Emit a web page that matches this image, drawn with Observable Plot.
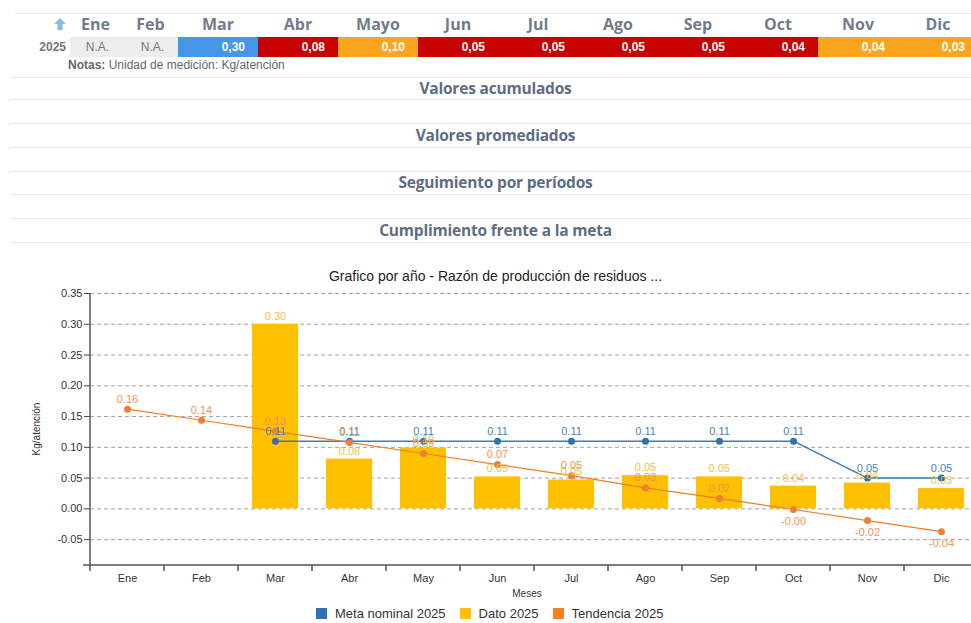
<!DOCTYPE html>
<html><head><meta charset="utf-8">
<script src="https://cdn.jsdelivr.net/npm/d3@7"></script>
<script src="https://cdn.jsdelivr.net/npm/@observablehq/plot@0.6"></script>
<style>
body{margin:0;width:971px;height:623px;overflow:hidden;background:#fff;position:relative;font-family:"Liberation Sans",Arial,sans-serif;}
.abs{position:absolute;}
.hdr{position:absolute;top:13px;height:22px;line-height:22px;text-align:center;font-family:"Open Sans",sans-serif;font-weight:700;font-size:16px;color:#6f7c8c;}
.cell{position:absolute;top:37px;height:20px;line-height:20px;font-size:12px;box-sizing:border-box;}
.hline{position:absolute;left:10px;width:961px;height:1px;background:#e8e8e8;}
.sec{position:absolute;left:0;width:991px;text-align:center;font-family:"Open Sans",sans-serif;font-weight:700;font-size:15.5px;color:#5d6d82;letter-spacing:-0.2px;}
#legend{position:absolute;top:606px;left:316px;display:flex;align-items:center;font-size:13px;color:#333;}
#legend .sq{width:11px;height:11px;margin-right:8px;}
#legend .it{display:flex;align-items:center;margin-right:14px;}
</style></head><body>
<div id="topArea"></div>
<div id="title" class="abs" style="top:268px;left:0;width:991px;text-align:center;font-size:14px;color:#222;">Grafico por año - Razón de producción de residuos ...</div>
<div id="chart" class="abs" style="left:0;top:284px;"></div>
<div id="legend"></div>
<script>
// ---- data ----
const tableMonths = ["Ene","Feb","Mar","Abr","Mayo","Jun","Jul","Ago","Sep","Oct","Nov","Dic"];
const tableValues = ["N.A.","N.A.","0,30","0,08","0,10","0,05","0,05","0,05","0,05","0,04","0,04","0,03"];
const tableStatus = ["na","na","azul","rojo","naranja","rojo","rojo","rojo","rojo","rojo","naranja","naranja"];
const tableYear = "2025";
const notes = "Unidad de medición: Kg/atención";
const sections = ["Valores acumulados","Valores promediados","Seguimiento por períodos","Cumplimiento frente a la meta"];

const months = ["Ene","Feb","Mar","Abr","May","Jun","Jul","Ago","Sep","Oct","Nov","Dic"];
const datoMonths = ["Mar","Abr","May","Jun","Jul","Ago","Sep","Oct","Nov","Dic"];
const dato2025 = [0.300,0.081,0.099,0.052,0.047,0.054,0.052,0.037,0.042,0.033];
const metaMonths = ["Mar","Abr","May","Jun","Jul","Ago","Sep","Oct","Nov","Dic"];
const meta2025 = [0.11,0.11,0.11,0.11,0.11,0.11,0.11,0.11,0.05,0.05];
const tendencia2025 = [0.162,0.144,0.126,0.108,0.090,0.072,0.054,0.034,0.017,-0.001,-0.019,-0.037];
const yTicks = [-0.05,0,0.05,0.10,0.15,0.20,0.25,0.30,0.35];
const legendItems = ["Meta nominal 2025","Dato 2025","Tendencia 2025"];

// ---- top table ----
const statusBg = {na:"#ededed", azul:"#4596e6", rojo:"#c80000", naranja:"#fba51c"};
const topArea = document.getElementById("topArea");
let html = `<div class="hline" style="top:13px;left:15px;width:956px;"></div>`;
html += `<svg class="abs" style="left:54px;top:18px;" width="12" height="13" viewBox="0 0 12 13"><path d="M6 0 L12 6 L8.5 6 L8.5 12 L3.5 12 L3.5 6 L0 6 Z" fill="#86bde8"/></svg>`;
html += `<div class="abs" style="left:30px;width:36px;top:37px;line-height:20px;text-align:right;font-size:12px;font-weight:bold;color:#777;">${tableYear}</div>`;
const lefts = [68,123,178,258,338,418,498,578,658,738,818,898];
const widths = [55,55,80,80,80,80,80,80,80,80,80,80];
tableMonths.forEach((m,i)=>{
  html += `<div class="hdr" style="left:${lefts[i]}px;width:${widths[i]}px;">${m}</div>`;
  const st = tableStatus[i];
  if (st === "na") {
    html += `<div class="cell" style="left:${lefts[i]+2}px;width:${widths[i]}px;background:${statusBg[st]};color:#777;text-align:center;">${tableValues[i]}</div>`;
  } else {
    html += `<div class="cell" style="left:${lefts[i]}px;width:${widths[i]}px;background:${statusBg[st]};color:#fff;font-weight:bold;text-align:right;padding-right:13px;">${tableValues[i]}</div>`;
  }
});
html += `<div class="abs" style="left:68px;top:58px;font-size:12px;color:#666;"><b>Notas:</b> ${notes}</div>`;
const boxes = [[77,99],[123,147],[171,194],[218,242]];
sections.forEach((s,i)=>{
  const [a,b] = boxes[i];
  html += `<div class="hline" style="top:${a}px"></div><div class="hline" style="top:${b}px"></div>`;
  html += `<div class="sec" style="top:${a}px;height:${b-a}px;line-height:${b-a}px;">${s}</div>`;
});
topArea.innerHTML = html;

// ---- chart ----
const fmt = d => d.toFixed(2);
const datoData = datoMonths.map((m,i)=>({mes:m, v:dato2025[i]}));
const metaData = metaMonths.map((m,i)=>({mes:m, v:meta2025[i]}));
const trendData = months.map((m,i)=>({mes:m, v:tendencia2025[i]}));
const cBar = "#FFC000", cMeta = "#2f72b2", cTrend = "#F07D26";

const W = 971, H = 320, mL = 90, mR = -7, mT = 9, mB = 39;
const plot = Plot.plot({
  width: W, height: H,
  marginLeft: mL, marginRight: mR, marginTop: mT, marginBottom: mB,
  style: {fontFamily: "Liberation Sans, Arial, sans-serif", fontSize: "11px", color: "#333", background: "transparent", overflow: "visible"},
  x: {type: "band", domain: months, padding: 0, label: null},
  y: {domain: [-0.092, 0.35], label: null},
  marks: [
    Plot.gridY(yTicks, {stroke: "#a0a0a0", strokeOpacity: 1, strokeDasharray: "4,3", strokeWidth: 1}),
    Plot.axisY(yTicks, {tickFormat: fmt, tickSize: 6, tickPadding: 2, label: null, stroke: "#444", fill: "#333", fontSize: 11}),
    Plot.axisX({tickSize: 0, tickPadding: 9, label: null, fill: "#333", fontSize: 11}),
    Plot.barY(datoData, {x: "mes", y: "v", fill: cBar, insetLeft: 14, insetRight: 14}),
    Plot.line(metaData, {x: "mes", y: "v", stroke: "#3a7cbd", strokeWidth: 1.5}),
    Plot.dot(metaData, {x: "mes", y: "v", fill: cMeta, r: 3.5}),
    Plot.line(trendData, {x: "mes", y: "v", stroke: cTrend, strokeWidth: 1.2}),
    Plot.dot(trendData, {x: "mes", y: "v", fill: "#EE7F33", r: 3.5}),
    Plot.text(datoData, {x: "mes", y: "v", text: d => fmt(d.v), dy: -8, fill: "#f0bf45", fontSize: 11}),
    Plot.text(metaData, {x: "mes", y: "v", text: d => fmt(d.v), dy: -10, fill: "#4a83bd", fontSize: 11}),
    Plot.text(trendData.filter(d => d.v >= 0), {x: "mes", y: "v", text: d => fmt(d.v), dy: -10, fill: "#f29352", fontSize: 11}),
    Plot.text(trendData.filter(d => d.v < 0), {x: "mes", y: "v", text: d => fmt(d.v), dy: 12, fill: "#f29352", fontSize: 11})
  ]
});
document.getElementById("chart").appendChild(plot);

// axis lines and band-boundary ticks via the plot's own scales
const svg = d3.select(plot.tagName.toLowerCase() === "svg" ? plot : plot.querySelector("svg"));
const xs = plot.scale("x"), ysc = plot.scale("y");
const yBottom = ysc.apply(ysc.domain[0]);
const yTop = ysc.apply(d3.max(yTicks));
const g = svg.append("g");
g.append("line").attr("x1", mL).attr("x2", mL).attr("y1", yTop).attr("y2", yBottom).attr("stroke", "#555").attr("stroke-width", 1.5);
g.append("line").attr("x1", mL - 7).attr("x2", W).attr("y1", yBottom).attr("y2", yBottom).attr("stroke", "#555").attr("stroke-width", 1.5);
months.forEach(m => {
  const x = xs.apply(m);
  g.append("line").attr("x1", x).attr("x2", x).attr("y1", yBottom).attr("y2", yBottom + 6).attr("stroke", "#555").attr("stroke-width", 1.5);
});
g.append("text").attr("x", 527).attr("y", yBottom + 32).attr("text-anchor", "middle").attr("font-size", 10).attr("fill", "#333").attr("font-family", "Liberation Sans, Arial, sans-serif").text("Meses");
g.append("text").attr("transform", `translate(40,${(yTop + yBottom) / 2}) rotate(-90)`).attr("text-anchor", "middle").attr("font-size", 10).attr("fill", "#333").attr("font-family", "Liberation Sans, Arial, sans-serif").text("Kg/atención");

// legend
const legendColors = [cMeta, cBar, "#F58220"];
document.getElementById("legend").innerHTML = legendItems.map((t,i) =>
  `<div class="it"><div class="sq" style="background:${legendColors[i]}"></div><span>${t}</span></div>`).join("");
</script>
</body></html>
